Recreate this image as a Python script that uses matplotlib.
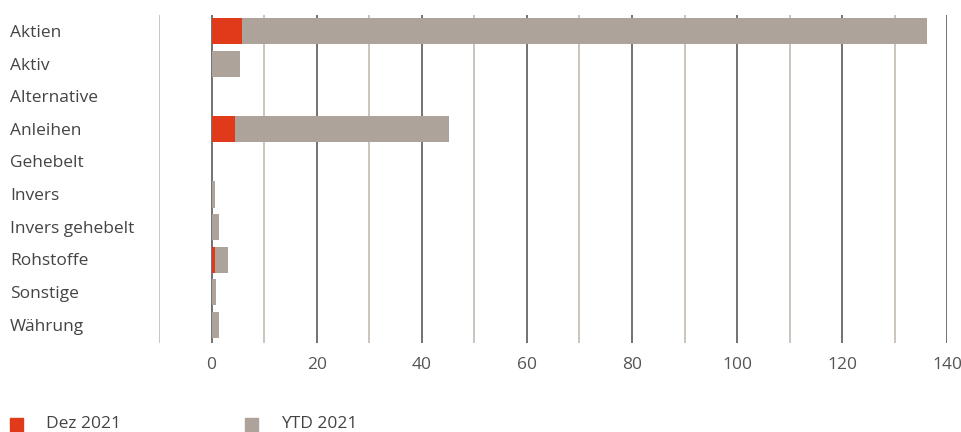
import numpy as np
import matplotlib.pyplot as plt
from matplotlib.transforms import blended_transform_factory
from matplotlib.patches import Rectangle

categories = ["Aktien", "Aktiv", "Alternative", "Anleihen", "Gehebelt",
              "Invers", "Invers gehebelt", "Rohstoffe", "Sonstige", "Währung"]
dez_2021 = [5.8, 0, 0, 4.5, 0, 0, 0, 0.7, 0, 0]
ytd_2021 = [136.1, 5.4, 0, 45.2, 0, 0.7, 1.4, 3.1, 0.85, 1.4]

red = "#e03a1a"
taupe = "#ada39a"
text_col = "#444444"

plt.rcParams['font.family'] = ['Open Sans', 'DejaVu Sans']

fig = plt.figure(figsize=(9.61, 4.32), dpi=100)
ax = fig.add_axes([159 / 961, 1 - 343 / 432, (947.3 - 159) / 961, (343 - 15) / 432])

y = np.arange(len(categories))
# YTD bars first, December bars drawn over them from zero
ax.barh(y, ytd_2021, height=0.8, color=taupe, zorder=3)
ax.barh(y, dez_2021, height=0.8, color=red, zorder=4)

ax.set_xlim(-10, 140)
ax.set_ylim(len(categories) - 0.45, -0.5)

ax.set_xticks(np.arange(0, 141, 20))
ax.set_xticks(np.arange(-10, 140, 20), minor=True)
ax.set_yticks([])
ax.grid(axis="x", which="major", color="#5a5a5a", linewidth=1.2, zorder=0)
ax.grid(axis="x", which="minor", color="#c2bab2", linewidth=1.2, zorder=0)
ax.tick_params(axis="x", which="both", length=0, pad=10, labelsize=12.5, labelcolor="#555555")
for s in ax.spines.values():
    s.set_visible(False)

# category names sit at the left edge of the figure
trans = blended_transform_factory(fig.transFigure, ax.transData)
for i, name in enumerate(categories):
    ax.text(10 / 961, i + 0.05, name, transform=trans, ha="left", va="center",
            fontsize=12.5, color=text_col)

# legend along the bottom
for x0, col, label in [(10, red, "Dez 2021"), (245, taupe, "YTD 2021")]:
    fig.patches.append(Rectangle((x0 / 961, 1 - 431 / 432), 13 / 961, 13 / 432,
                                 transform=fig.transFigure, color=col))
    fig.text((x0 + 36) / 961, 1 - 424 / 432, label, ha="left", va="center",
             fontsize=12.5, color=text_col)

fig.savefig("out.png", dpi=100)
